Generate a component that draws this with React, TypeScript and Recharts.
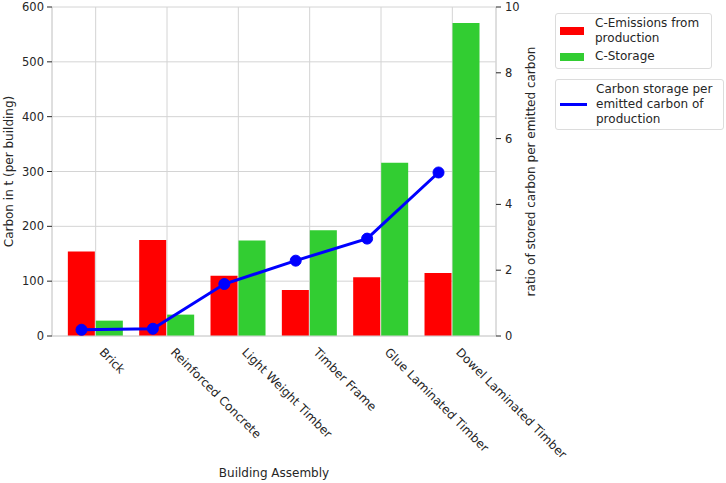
import {
  Bar,
  CartesianGrid,
  ComposedChart,
  Legend,
  Line,
  XAxis,
  YAxis,
} from 'recharts';

const categories = [
  'Brick',
  'Reinforced Concrete',
  'Light Weight Timber',
  'Timber Frame',
  'Glue Laminated Timber',
  'Dowel Laminated Timber',
];
const emissions = [154, 175, 110, 84, 107, 115];
const storage = [28, 39, 174, 193, 316, 571];
const ratio = [0.19, 0.22, 1.58, 2.29, 2.96, 4.97];
const leftTicks = [0, 100, 200, 300, 400, 500, 600];
const rightTicks = [0, 2, 4, 6, 8, 10];

const data = categories.map((name, i) => ({
  name,
  idx: i,
  emissions: emissions[i],
  storage: storage[i],
  ratio: ratio[i],
}));

const FONT = '"DejaVu Sans", sans-serif';
const TEXT = '#262626';
const GRID = '#d4d4d4';

function CategoryTick(props: any) {
  const { x, y, payload } = props;
  return (
    <text
      transform={`translate(${x + 3},${y + 17}) rotate(45)`}
      textAnchor="start"
      fontFamily={FONT}
      fontSize={12}
      fill={TEXT}
    >
      {payload.value}
    </text>
  );
}

function LegendBoxes(props: any) {
  const payload: any[] = props.payload || [];
  const bars = payload.filter((p) => p.type !== 'line');
  const lines = payload.filter((p) => p.type === 'line');
  const box = {
    border: '1px solid #dcdcdc',
    borderRadius: 3,
    background: '#fff',
    padding: '2px 6px 4px 4px',
    fontFamily: FONT,
    fontSize: 12,
    lineHeight: '15px',
    color: TEXT,
    boxSizing: 'border-box' as const,
  };
  const row = (p: any, i: number) => (
    <div
      key={i}
      style={{ display: 'flex', alignItems: 'center', marginTop: i ? 3 : 0 }}
    >
      {p.type === 'line' ? (
        <span
          style={{ width: 27, height: 3, background: p.color, marginRight: 9 }}
        />
      ) : (
        <span
          style={{ width: 24, height: 8, background: p.color, marginRight: 11 }}
        />
      )}
      <span style={{ whiteSpace: 'pre-line' }}>{p.value}</span>
    </div>
  );
  return (
    <div>
      <div style={{ ...box, width: 157, height: 56 }}>{bars.map(row)}</div>
      <div style={{ ...box, width: 169, height: 51, marginTop: 10 }}>
        {lines.map(row)}
      </div>
    </div>
  );
}

export default function App() {
  return (
    <div style={{ position: 'absolute', left: 0, top: 0, background: '#fff' }}>
      <ComposedChart
        width={726}
        height={483}
        data={data}
        margin={{ top: 7, right: 170, bottom: 6, left: 0 }}
        barCategoryGap="11%"
        barGap={1}
      >
        <CartesianGrid
          xAxisId="cat"
          yAxisId="left"
          stroke={GRID}
          strokeWidth={1}
        />
        <XAxis
          xAxisId="cat"
          dataKey="name"
          type="category"
          padding={{ left: 8, right: 8 }}
          height={141}
          tickLine={false}
          tickSize={0}
          tickMargin={0}
          axisLine={{ stroke: GRID }}
          interval={0}
          tick={<CategoryTick />}
          label={(p: any) => {
            const vb = p.viewBox;
            return (
              <text
                x={vb.x + vb.width / 2}
                y={vb.y + vb.height}
                textAnchor="middle"
                fontFamily={FONT}
                fontSize={12}
                fill={TEXT}
              >
                Building Assembly
              </text>
            );
          }}
        />
        <XAxis
          xAxisId="num"
          dataKey="idx"
          type="number"
          domain={[-0.413, 5.805]}
          allowDataOverflow
          hide
        />
        <YAxis
          yAxisId="left"
          orientation="left"
          width={52}
          domain={[0, 600]}
          ticks={leftTicks}
          interval={0}
          tickSize={5}
          tickMargin={3}
          tickLine={{ stroke: TEXT }}
          axisLine={{ stroke: GRID }}
          tick={{ fill: TEXT, fontSize: 11.5, fontFamily: FONT }}
          label={(p: any) => {
            const vb = p.viewBox;
            const cx = vb.x + 13;
            const cy = vb.y + vb.height / 2;
            return (
              <text
                x={cx}
                y={cy}
                transform={`rotate(-90 ${cx} ${cy})`}
                textAnchor="middle"
                fontFamily={FONT}
                fontSize={12}
                fill={TEXT}
              >
                Carbon in t (per building)
              </text>
            );
          }}
        />
        <YAxis
          yAxisId="right"
          orientation="right"
          width={60}
          domain={[0, 10]}
          ticks={rightTicks}
          interval={0}
          tickSize={5}
          tickMargin={4}
          tickLine={{ stroke: TEXT }}
          axisLine={{ stroke: GRID }}
          tick={{ fill: TEXT, fontSize: 11.5, fontFamily: FONT }}
          label={(p: any) => {
            const vb = p.viewBox;
            const cx = vb.x + 39;
            const cy = vb.y + vb.height / 2;
            return (
              <text
                x={cx}
                y={cy}
                transform={`rotate(-90 ${cx} ${cy})`}
                textAnchor="middle"
                fontFamily={FONT}
                fontSize={12}
                fill={TEXT}
              >
                ratio of stored carbon per emitted carbon
              </text>
            );
          }}
        />
        <Bar
          xAxisId="cat"
          yAxisId="left"
          dataKey="emissions"
          name={'C-Emissions from\nproduction'}
          fill="#ff0000"
          isAnimationActive={false}
        />
        <Bar
          xAxisId="cat"
          yAxisId="left"
          dataKey="storage"
          name="C-Storage"
          fill="#32cd32"
          isAnimationActive={false}
        />
        <Line
          xAxisId="num"
          yAxisId="right"
          dataKey="ratio"
          name={'Carbon storage per\nemitted carbon of\nproduction'}
          stroke="#0000ff"
          strokeWidth={3}
          dot={{ r: 5.5, fill: '#0000ff', stroke: '#0000ff', strokeWidth: 1 }}
          isAnimationActive={false}
        />
        <Legend
          layout="vertical"
          align="center"
          verticalAlign="middle"
          wrapperStyle={{ left: 555, top: 13, width: 170 }}
          content={<LegendBoxes />}
        />
      </ComposedChart>
    </div>
  );
}
